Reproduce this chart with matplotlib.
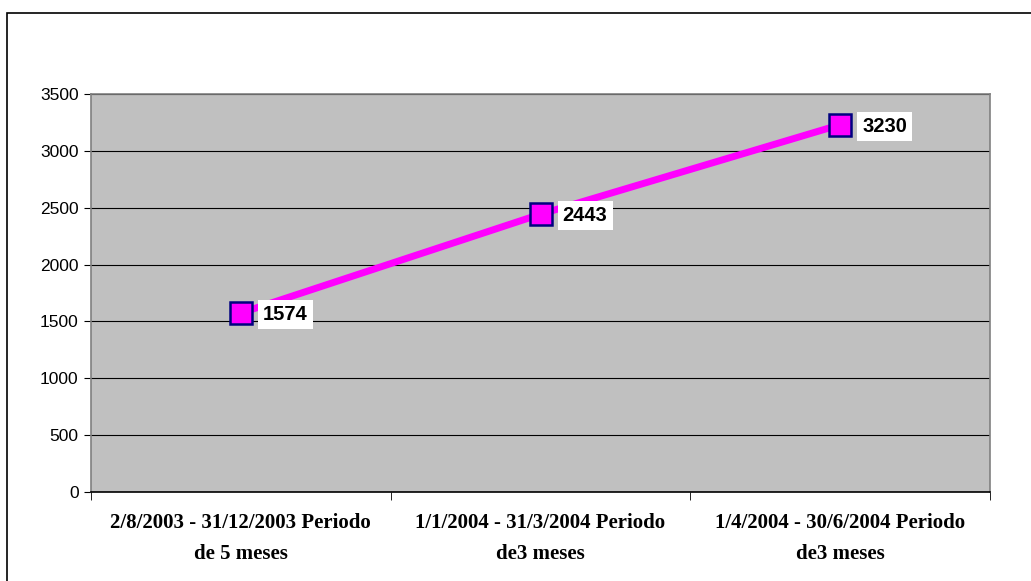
import matplotlib.pyplot as plt
from matplotlib.patches import Rectangle

categorias = ["2/8/2003 - 31/12/2003 Periodo\nde 5 meses",
              "1/1/2004 - 31/3/2004 Periodo\nde3 meses",
              "1/4/2004 - 30/6/2004 Periodo\nde3 meses"]
valores = [1574, 2443, 3230]
yticks = [0, 500, 1000, 1500, 2000, 2500, 3000, 3500]

fig = plt.figure(figsize=(10.31, 5.81), dpi=100)
# marco exterior (se corta a la derecha y abajo)
fig.patches.append(Rectangle((0.0068, -0.05), 1.1, 1.05 - 13 / 581, transform=fig.transFigure,
                             fill=False, edgecolor="black", linewidth=1.2))
ax = fig.add_axes([0.0883, 0.1532, 0.8719, 0.6850])
ax.set_facecolor("#C0C0C0")

x = list(range(len(valores)))
ax.plot(x, valores, color="#FF00FF", linewidth=5, marker="s", markersize=16,
        markerfacecolor="#FF00FF", markeredgecolor="#000080", markeredgewidth=1.8, zorder=3)

for xi, v in zip(x, valores):
    ax.annotate(str(v), (xi, v), xytext=(16, -1), textcoords="offset points",
                ha="left", va="center", fontsize=14.5, fontweight="bold",
                family="Liberation Sans", zorder=4,
                bbox=dict(boxstyle="square,pad=0.25", facecolor="white", edgecolor="none"))

ax.set_xlim(-0.5, 2.5)
ax.set_ylim(0, 3500)
ax.set_yticks(yticks)
ax.set_yticklabels([str(t) for t in yticks], fontsize=12.5, family="Liberation Sans")
ax.grid(axis="y", color="black", linewidth=0.8)
ax.set_axisbelow(True)

ax.set_xticks(x)
ax.set_xticklabels(categorias, fontsize=15, fontweight="bold", family="Liberation Serif",
                   linespacing=1.75)
ax.tick_params(axis="x", length=0, pad=15)
ax.set_xticks([-0.5, 0.5, 1.5, 2.5], minor=True)
ax.tick_params(axis="x", which="minor", length=6, color="black")
ax.tick_params(axis="y", length=5, color="black", pad=4)

for s in ax.spines.values():
    s.set_color("#808080")
    s.set_linewidth(1.2)
ax.spines["bottom"].set_color("black")

fig.savefig("out.png", dpi=100)
